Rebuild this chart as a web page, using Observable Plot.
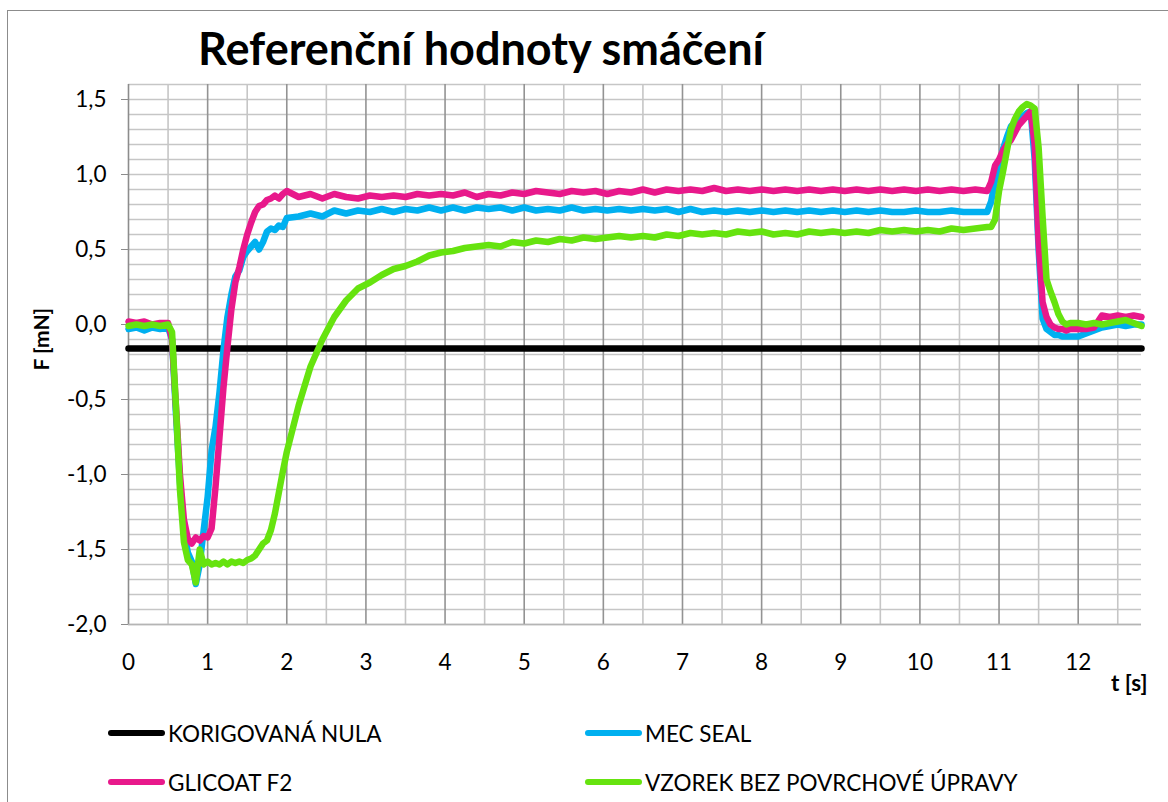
<!DOCTYPE html>
<html><head><meta charset="utf-8">
<script src="https://cdn.jsdelivr.net/npm/d3@7"></script>
<script src="https://cdn.jsdelivr.net/npm/@observablehq/plot@0.6"></script>
<style>
body{margin:0;background:#fff;font-family:Lato,"Open Sans",sans-serif;}
#wrap{position:relative;width:1168px;height:802px;overflow:hidden;background:#fff;}
#border{position:absolute;left:7px;top:10px;width:1300px;height:1000px;border:1.5px solid #8c8c8c;}
#title{position:absolute;left:198px;top:21px;font-weight:700;font-size:45px;color:#000;white-space:nowrap;}
#chart{position:absolute;left:0;top:0;}
.leg{position:absolute;display:flex;align-items:center;font-size:22.5px;color:#000;white-space:nowrap;height:20px;}
.leg .sw{display:inline-block;width:57px;height:6px;border-radius:3px;margin-right:3px;}
</style></head>
<body><div id="wrap"><div id="border"></div><div id="chart"></div><div id="title">Referenční hodnoty smáčení</div><div id="legend"></div></div>
<script>
// time samples (s)
const time = [
  0, 0.1, 0.2, 0.3, 0.4, 0.5,
  0.55, 0.6, 0.65, 0.7, 0.75, 0.8, 0.85, 0.9, 0.95, 1.0, 1.05, 1.1, 1.15, 1.2, 1.25, 1.3, 1.35, 1.4, 1.45, 1.5, 1.55, 1.6, 1.65, 1.7, 1.75, 1.8, 1.85, 1.9, 1.95,
  2.0, 2.15, 2.3, 2.45, 2.6, 2.75, 2.9, 3.05, 3.2, 3.35,
  3.5, 3.65, 3.8, 3.95, 4.1, 4.25, 4.4, 4.55, 4.7, 4.85,
  5.0, 5.15, 5.3, 5.45, 5.6, 5.75, 5.9, 6.05, 6.2, 6.35,
  6.5, 6.65, 6.8, 6.95, 7.1, 7.25, 7.4, 7.55, 7.7, 7.85,
  8.0, 8.15, 8.3, 8.45, 8.6, 8.75, 8.9, 9.05, 9.2, 9.35,
  9.5, 9.65, 9.8, 9.95, 10.1, 10.25, 10.4, 10.55, 10.7, 10.85,
  10.9, 10.95, 11.0, 11.05, 11.1, 11.15, 11.2, 11.25, 11.3, 11.35, 11.4, 11.45, 11.5, 11.55, 11.6, 11.65, 11.7, 11.75, 11.8, 11.85, 11.9,
  12.0, 12.1, 12.2, 12.3, 12.4, 12.5, 12.6, 12.7, 12.8
];
// F [mN] — MEC SEAL
const mecSeal = [
  -0.03, -0.02, -0.04, -0.02, -0.03, -0.02,
  -0.10, -0.60, -1.05, -1.38, -1.52, -1.58, -1.73, -1.60, -1.37, -1.15, -0.84, -0.68, -0.45, -0.17, 0.05, 0.20, 0.32, 0.36, 0.45, 0.49, 0.52, 0.55, 0.50, 0.55, 0.62, 0.64, 0.63, 0.66, 0.65,
  0.71, 0.72, 0.74, 0.72, 0.76, 0.74, 0.76, 0.75, 0.77, 0.75,
  0.77, 0.76, 0.78, 0.76, 0.78, 0.76, 0.78, 0.77, 0.78, 0.76,
  0.78, 0.76, 0.77, 0.76, 0.78, 0.76, 0.77, 0.76, 0.77, 0.76,
  0.77, 0.76, 0.77, 0.75, 0.77, 0.75, 0.76, 0.75, 0.76, 0.75,
  0.76, 0.75, 0.76, 0.75, 0.76, 0.75, 0.76, 0.75, 0.76, 0.75,
  0.76, 0.75, 0.75, 0.76, 0.75, 0.75, 0.76, 0.75, 0.75, 0.75,
  0.82, 0.96, 1.05, 1.17, 1.25, 1.32, 1.35, 1.37, 1.39, 1.41, 1.42, 1.10, 0.50, 0.04, -0.03, -0.05, -0.07, -0.07, -0.08, -0.08, -0.08,
  -0.08, -0.06, -0.04, -0.02, -0.01, 0.00, -0.01, 0.00, 0.00
];
// F [mN] — GLICOAT F2
const glicoat = [
  0.02, 0.01, 0.02, 0.00, 0.01, 0.01,
  -0.10, -0.55, -1.00, -1.30, -1.43, -1.46, -1.42, -1.44, -1.41, -1.42, -1.36, -1.08, -0.75, -0.42, -0.15, 0.10, 0.28, 0.38, 0.50, 0.60, 0.68, 0.75, 0.79, 0.80, 0.83, 0.84, 0.86, 0.84, 0.87,
  0.89, 0.85, 0.87, 0.84, 0.87, 0.85, 0.84, 0.86, 0.85, 0.86,
  0.85, 0.87, 0.86, 0.87, 0.86, 0.88, 0.85, 0.87, 0.86, 0.88,
  0.87, 0.89, 0.88, 0.87, 0.89, 0.88, 0.89, 0.87, 0.89, 0.88,
  0.90, 0.88, 0.90, 0.89, 0.90, 0.89, 0.91, 0.89, 0.90, 0.89,
  0.90, 0.89, 0.90, 0.89, 0.90, 0.89, 0.90, 0.89, 0.90, 0.89,
  0.90, 0.89, 0.90, 0.89, 0.90, 0.89, 0.90, 0.89, 0.90, 0.89,
  0.95, 1.06, 1.10, 1.16, 1.20, 1.23, 1.28, 1.33, 1.36, 1.39, 1.42, 1.20, 0.55, 0.15, 0.05, 0.00, -0.02, -0.03, -0.03, -0.04, -0.03,
  -0.03, -0.03, -0.02, 0.06, 0.05, 0.06, 0.05, 0.06, 0.05
];
// F [mN] — VZOREK BEZ POVRCHOVÉ ÚPRAVY
const vzorek = [
  -0.01, 0.00, -0.01, 0.00, -0.01, 0.00,
  -0.05, -0.55, -1.10, -1.45, -1.57, -1.60, -1.72, -1.50, -1.60, -1.58, -1.60, -1.59, -1.60, -1.58, -1.60, -1.58, -1.59, -1.58, -1.59, -1.57, -1.56, -1.54, -1.50, -1.46, -1.44, -1.37, -1.26, -1.12, -0.98,
  -0.85, -0.54, -0.28, -0.10, 0.05, 0.16, 0.24, 0.28, 0.33, 0.37,
  0.39, 0.42, 0.46, 0.48, 0.49, 0.51, 0.52, 0.53, 0.52, 0.55,
  0.54, 0.56, 0.55, 0.57, 0.56, 0.58, 0.57, 0.58, 0.59, 0.58,
  0.59, 0.58, 0.60, 0.59, 0.61, 0.60, 0.61, 0.60, 0.62, 0.61,
  0.62, 0.60, 0.61, 0.60, 0.62, 0.61, 0.62, 0.61, 0.62, 0.61,
  0.63, 0.62, 0.63, 0.62, 0.63, 0.62, 0.64, 0.63, 0.64, 0.65,
  0.65, 0.70, 0.89, 1.02, 1.16, 1.30, 1.37, 1.42, 1.45, 1.47, 1.46, 1.44, 1.18, 0.72, 0.30, 0.22, 0.15, 0.07, 0.02, 0.00, 0.01,
  0.01, 0.00, 0.01, 0.00, 0.01, 0.02, 0.03, 0.01, -0.01
];
// corrected zero
const korigT = [0, 12.8];
const korigF = [-0.16, -0.16];

const seriesNames = ["KORIGOVANÁ NULA", "MEC SEAL", "GLICOAT F2", "VZOREK BEZ POVRCHOVÉ ÚPRAVY"];
const seriesColors = ["#000000", "#00B0F0", "#E8198B", "#66E30F"];

const xTicks = [0,1,2,3,4,5,6,7,8,9,10,11,12];
const yTicks = [-2,-1.5,-1,-0.5,0,0.5,1,1.5];

const toRows = (vals) => time.map((t, i) => ({t, F: vals[i]})).filter(d => d.F != null);
const korigRows = korigT.map((t, i) => ({t, F: korigF[i]}));

const yGrid = d3.range(-20, 17).map(k => k / 10);
const xMinor = d3.range(0, 26).map(k => k / 2).filter(v => v % 1 !== 0);
const xMajor = xTicks.slice(1);

const lineOpts = (color) => ({x: "t", y: "F", stroke: color, strokeWidth: 6.5, strokeLinejoin: "round", strokeLinecap: "round"});

const chart = Plot.plot({
  width: 1168, height: 702,
  marginLeft: 128, marginRight: 27, marginTop: 84, marginBottom: 78,
  style: {fontFamily: "Lato, 'Open Sans', sans-serif", fontSize: "22px", color: "#000", background: "transparent", overflow: "visible"},
  x: {domain: [0, 12.8]},
  y: {domain: [-2, 1.6]},
  marks: [
    Plot.ruleY(yGrid, {stroke: "#c6c6c6", strokeWidth: 1.6}),
    Plot.ruleX(xMinor, {stroke: "#c6c6c6", strokeWidth: 1.6}),
    Plot.ruleX(xMajor, {stroke: "#939393", strokeWidth: 1.6}),
    Plot.ruleX([0], {stroke: "#8c8c8c", strokeWidth: 1.6}),
    Plot.ruleY([-2], {stroke: "#b5b5b5", strokeWidth: 1.6}),
    Plot.axisY(yTicks, {tickFormat: d => d.toFixed(1).replace(".", ","), tickSize: 7, tickPadding: 15, stroke: "#8c8c8c", strokeOpacity: 1, label: null, fontSize: 22.5}),
    Plot.axisX(xTicks, {tickFormat: d => String(d), tickSize: 0, tickPadding: 30, label: null, fontSize: 22.5}),
    Plot.line(korigRows, lineOpts(seriesColors[0])),
    Plot.line(toRows(mecSeal), lineOpts(seriesColors[1])),
    Plot.line(toRows(glicoat), lineOpts(seriesColors[2])),
    Plot.line(toRows(vzorek), lineOpts(seriesColors[3])),
    Plot.text(["F [mN]"], {frameAnchor: "left", dx: -86, dy: 16, rotate: -90, fontWeight: "bold", fontSize: 21}),
    Plot.text(["t [s]"], {frameAnchor: "bottom-right", dx: 6, dy: 66, textAnchor: "end", fontWeight: "bold", fontSize: 22.5})
  ]
});
document.getElementById("chart").appendChild(chart);

// legend
const legPos = [[108, 723], [585, 723], [108, 772], [585, 772]];
const legend = document.getElementById("legend");
seriesNames.forEach((name, i) => {
  const div = document.createElement("div");
  div.className = "leg";
  div.style.left = legPos[i][0] + "px";
  div.style.top = legPos[i][1] + "px";
  const sw = document.createElement("span");
  sw.className = "sw";
  sw.style.background = seriesColors[i];
  div.appendChild(sw);
  const tx = document.createElement("span");
  tx.textContent = name;
  div.appendChild(tx);
  legend.appendChild(div);
});
</script>
</body></html>
